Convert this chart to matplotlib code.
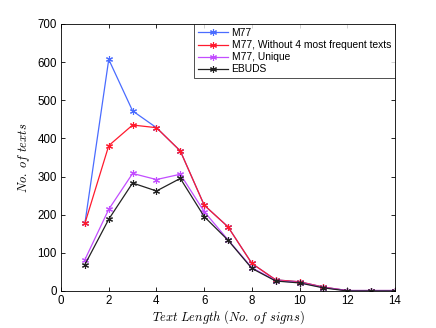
import matplotlib
matplotlib.use("Agg")
import matplotlib.pyplot as plt

plt.rcParams["font.family"] = ["Liberation Sans", "DejaVu Sans"]
plt.rcParams["mathtext.fontset"] = "cm"

# text length (number of signs)
lengths = [1, 2, 3, 4, 5, 6, 7, 8, 9, 10, 11, 12, 13, 14]

m77 = [177, 607, 472, 428, 367, 225, 168, 72, 29, 24, 10, 1, 1, 1]
m77_no_top4 = [177, 381, 435, 428, 367, 225, 168, 72, 29, 24, 10, 1, 1, 1]
m77_unique = [82, 214, 308, 292, 306, 208, 134, 61, 27, 22, 9, 1, 1, 1]
ebuds = [69, 188, 283, 262, 295, 195, 133, 59, 26, 21, 8, 0, 0, 0]

series = [
    ("M77", m77, "#4a6cff"),
    ("M77, Without 4 most frequent texts", m77_no_top4, "#ff1a2e"),
    ("M77, Unique", m77_unique, "#c24dff"),
    ("EBUDS", ebuds, "#222222"),
]

fig = plt.figure(figsize=(4.36, 3.28), dpi=100)
ax = fig.add_axes([0.14, 0.113, 0.766, 0.814])

asterisk = (6, 2, 0)
for name, vals, col in series:
    ax.plot(lengths, vals, color=col, linewidth=0.9, marker=asterisk,
            markersize=5, markeredgewidth=0.8, label=name)

ax.set_xlim(0, 14)
ax.set_ylim(0, 700)
ax.set_xticks(range(0, 15, 2))
ax.set_yticks(range(0, 701, 100))
ax.tick_params(direction="in", top=True, right=True, labelsize=8.3, length=3, width=0.6, pad=3)
for s in ax.spines.values():
    s.set_linewidth(0.6)

ax.set_xlabel(r"$Text\ Length\ (No.\ of\ signs)$", fontsize=9, labelpad=1)
ax.set_ylabel(r"$No.\ of\ texts$", fontsize=9, labelpad=4)

leg = ax.legend(loc="upper right", fontsize=7.4, frameon=True, fancybox=False,
                borderaxespad=0, handlelength=3.0, handletextpad=0.3,
                borderpad=0.4, labelspacing=0.2)
leg.get_frame().set_edgecolor("black")
leg.get_frame().set_linewidth(0.6)

fig.savefig("out.png", dpi=100)
